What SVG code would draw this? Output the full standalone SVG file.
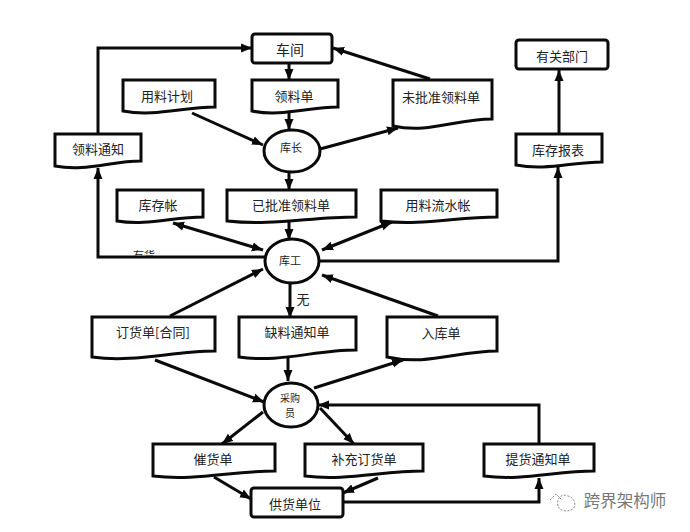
<svg xmlns="http://www.w3.org/2000/svg" width="690" height="532" viewBox="0 0 690 532">
<defs>
<style>
.n{fill:#fff;stroke:#0a0a0a;stroke-width:3;stroke-linejoin:miter}
.r{fill:#fff;stroke:#0a0a0a;stroke-width:3}
.c{fill:none;stroke:#0a0a0a;stroke-width:3}
.a{marker-end:url(#arrow)}
.b{marker-start:url(#arrow);marker-end:url(#arrow)}
text{font-family:"Noto Sans CJK SC","Noto Sans",sans-serif;font-size:13px;fill:#222;text-anchor:middle}
.s{font-size:11px}
.t{font-size:10px}
.l{font-size:14px}
.w{font-size:16.5px;fill:#777}
</style>
<marker id="arrow" markerUnits="userSpaceOnUse" markerWidth="12" markerHeight="10" viewBox="0 0 12 10" refX="11" refY="5" orient="auto-start-reverse"><path d="M0,0.5L11,5L0,9.5Z" fill="#0a0a0a"/></marker>
<clipPath id="cut"><rect x="125" y="245" width="40" height="10.5"/></clipPath>
</defs>
<rect width="690" height="532" fill="#fff"/>
<g id="connectors">
<path class="c a" d="M289,63V80"/>
<path class="c a" d="M98,134V48H252"/>
<path class="c a" d="M430,79L333,48"/>
<path class="c a" d="M320,149L398,128"/>
<path class="c a" d="M289,112V130"/>
<path class="c a" d="M192,113L263,145"/>
<path class="c a" d="M289,172V190"/>
<path class="c a" d="M289,222V240"/>
<path class="c b" d="M173,223L263,250"/>
<path class="c b" d="M392,222L322,250"/>
<path class="c a" d="M265,257H98V168"/>
<path class="c a" d="M319,261H558V167"/>
<path class="c a" d="M559,134V70"/>
<path class="c a" d="M290,283V318"/>
<path class="c a" d="M170,316L263,269"/>
<path class="c a" d="M438,316L322,275"/>
<path class="c a" d="M155,360L264,402"/>
<path class="c a" d="M288,358V381"/>
<path class="c a" d="M314,388L403,360"/>
<path class="c a" d="M539,444V405H318"/>
<path class="c a" d="M263,412L222,444"/>
<path class="c a" d="M320,408L354,444"/>
<path class="c a" d="M214,477L251,499"/>
<path class="c a" d="M378,478L343,493"/>
<path class="c a" d="M343,502H539V478"/>
</g>
<g id="n-chejian"><rect class="r" x="252" y="34" width="80" height="29" rx="3"/><text class="l" x="290" y="55">车间</text></g>
<g id="n-lingliaodan"><path class="n" d="M252,80H338V107C308,107 282,117 252,111Z"/><text x="294" y="101">领料单</text></g>
<g id="n-yongliaojihua"><path class="n" d="M123,80H215V107C183,107 155,117 123,111Z"/><text x="167" y="101">用料计划</text></g>
<g id="n-weipizhun"><path class="n" d="M393,80H492V119C456,119 428,134 393,126Z"/><text x="441" y="102">未批准领料单</text></g>
<g id="n-youguan"><rect class="r" x="516" y="40" width="92" height="29" rx="3"/><text x="562" y="61">有关部门</text></g>
<g id="n-kuzhang"><ellipse class="n" cx="292" cy="151" rx="28" ry="21"/><text class="s" x="291" y="152">库长</text></g>
<g id="n-lingliaotongzhi"><path class="n" d="M55,134H141V161C111,161 85,172 55,166Z"/><text x="98" y="154">领料通知</text></g>
<g id="n-kucunbaobiao"><path class="n" d="M516,134H602V162C572,162 546,171 516,165Z"/><text x="558" y="155">库存报表</text></g>
<g id="n-kucunzhang"><path class="n" d="M117,190H203V217C173,217 147,226 117,221Z"/><text x="158" y="210">库存帐</text></g>
<g id="n-yipizhun"><path class="n" d="M227,190H356V217C311,217 272,226 227,221Z"/><text x="291" y="210">已批准领料单</text></g>
<g id="n-liushuizhang"><path class="n" d="M381,190H497V217C456,217 422,226 381,221Z"/><text x="438" y="210">用料流水帐</text></g>
<g id="n-kugong"><ellipse class="n" cx="292" cy="261" rx="27" ry="22"/><text class="s" x="290" y="265">库工</text></g>
<g id="n-dinghuodan"><path class="n" d="M92,317H215V351C172,351 135,363 92,357Z"/><text x="153" y="337">订货单[合同]</text></g>
<g id="n-queliao"><path class="n" d="M239,317H356V350C315,350 280,363 239,357Z"/><text x="297" y="337">缺料通知单</text></g>
<g id="n-rukudan"><path class="n" d="M387,317H497V351C458,351 426,366 387,357Z"/><text x="441" y="338">入库单</text></g>
<g id="n-caigouyuan"><ellipse class="n" cx="291" cy="405" rx="27" ry="22"/><text class="t" x="290" y="402">采购</text><text class="t" x="290" y="417">员</text></g>
<g id="n-cuihuodan"><path class="n" d="M153,444H275V471C232,471 196,481 153,476Z"/><text x="213" y="464">催货单</text></g>
<g id="n-buchong"><path class="n" d="M305,444H423V471C382,471 346,481 305,476Z"/><text x="364" y="464">补充订货单</text></g>
<g id="n-tihuo"><path class="n" d="M484,444H594V471C556,471 522,481 484,476Z"/><text x="538" y="464">提货通知单</text></g>
<g id="n-gonghuo"><rect class="r" x="251" y="488" width="92" height="29" rx="3"/><text x="295" y="509">供货单位</text></g>
<g id="labels">
<text class="s" x="144" y="260" clip-path="url(#cut)">有货</text>
<text x="303" y="304">无</text>
</g>
<g id="watermark">
<path d="M550,500L556,494L562,500M558,506C556,498 562,493 568,496C576,498 577,508 571,510C566,512 560,511 558,506Z" fill="none" stroke="#888" stroke-width="1" stroke-dasharray="2 1.5"/>
<text class="w" x="625" y="507">跨界架构师</text>
</g>
</svg>
